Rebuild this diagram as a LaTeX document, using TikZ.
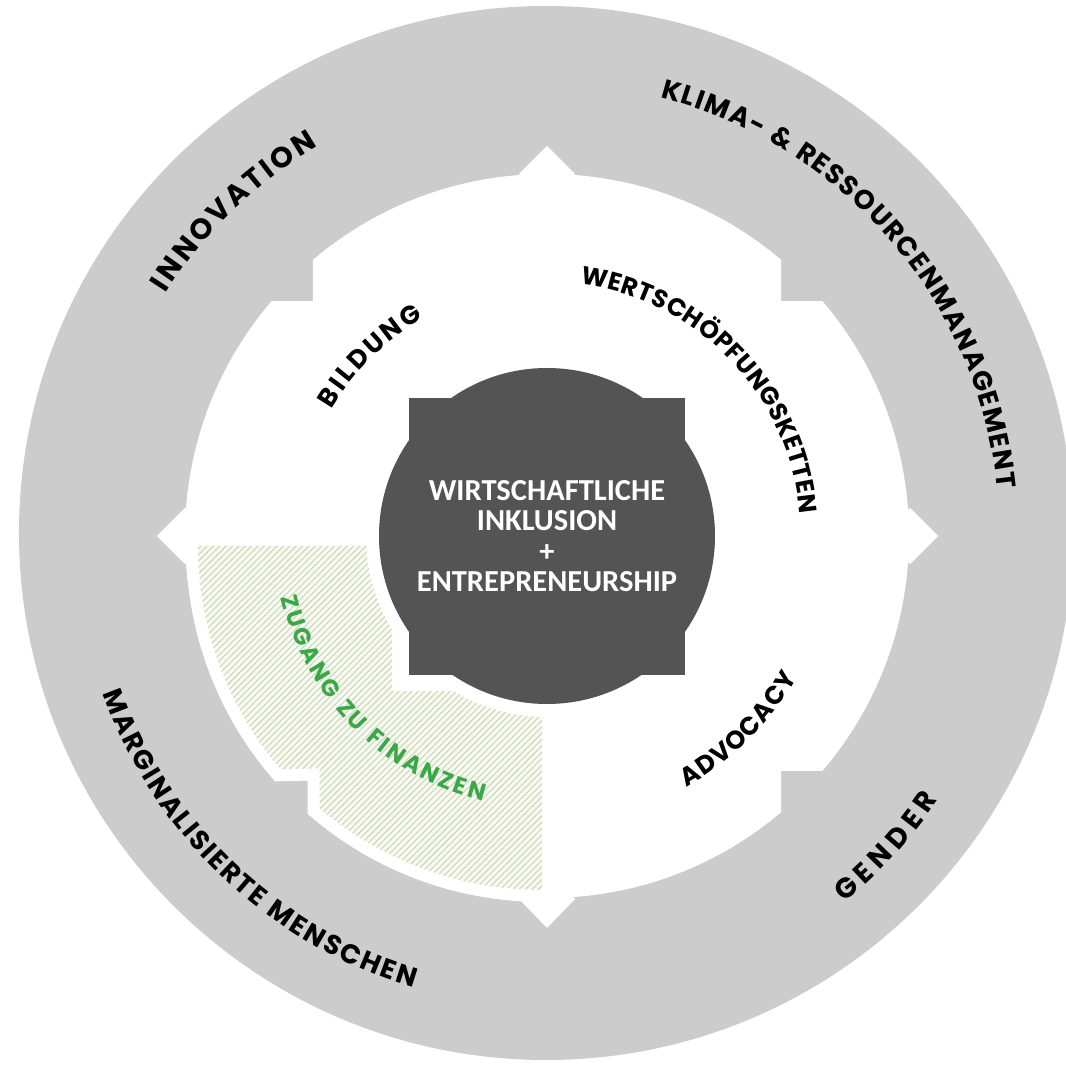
\documentclass[tikz,border=0pt]{standalone}
\usepackage{fontspec}
\newfontfamily\ringfont{Poppins}
\newfontfamily\corefont{Carlito}
\usetikzlibrary{decorations.text,patterns.meta}
\definecolor{ringgray}{RGB}{204,204,204}
\definecolor{darkcore}{RGB}{84,84,84}
\definecolor{hatchbg}{RGB}{247,249,242}
\definecolor{hatchline}{RGB}{203,217,182}
\definecolor{zgreen}{RGB}{58,168,72}
\newcommand\labfmt[1]{\ringfont\bfseries\fontsize{#1}{#1}\selectfont}
\tikzset{
  ringlabel/.style={decorate, decoration={text along path, text align={fit to path}, text color=black, text={#1}}},
  greenlabel/.style={decorate, decoration={text along path, text align={fit to path}, text color=zgreen, text={#1}}},
  hatched/.style={preaction={draw=white, line width=24pt, line join=miter},
    fill=hatchbg,
    postaction={pattern={Lines[angle=45,distance=4.5pt,line width=1.1pt]}, pattern color=hatchline}},
  corelabel/.style={align=center, text=white, inner sep=0pt,
    font=\corefont\bfseries\fontsize{30.5}{30.5}\selectfont}
}
\begin{document}
\begin{tikzpicture}[x=1pt,y=1pt]
\useasboundingbox (-547,-529) rectangle (519,536);
\fill[white] (-547,-529) rectangle (519,536);
% outer ring
\fill[ringgray] (-1,3) circle (527);
% white gear shape
\begin{scope}
  \clip (-234,-400) rectangle (234,400);
  \fill[white] (0,0) circle (362);
\end{scope}
\begin{scope}
  \clip (-400,-234) rectangle (400,234);
  \fill[white] (0,0) circle (362);
\end{scope}
\fill[white] (0,390) -- (28,362) -- (0,334) -- (-28,362) -- cycle;
\fill[white] (0,-392) -- (28,-363) -- (0,-334) -- (-28,-363) -- cycle;
\fill[white] (-390,0) -- (-362,28) -- (-334,0) -- (-362,-28) -- cycle;
\fill[white] (391,0) -- (363,28) -- (335,0) -- (363,-28) -- cycle;
% hatched quadrant
\begin{scope}[shift={(-5,-10)}, scale=0.95]
  \path[hatched] (0,0) -- (-362,0) arc[start angle=180, end angle=220.48, radius=362]
    -- (-234,-234) -- (229.73:362) arc[start angle=229.73, end angle=270, radius=362] -- cycle;
\end{scope}
% white halo round the core
\fill[white] (0,0) circle (181);
\fill[white] (-155,-155) rectangle (155,155);
% dark core
\fill[darkcore] (0,0) circle (168);
\fill[darkcore] (-138,-139) rectangle (138,138);
\node[corelabel] (core) at (0,0) {WIRTSCHAFTLICHE\\INKLUSION\\+\\ENTREPRENEURSHIP};
% outer ring labels
\path[ringlabel={|\labfmt{29}|INNOVATION}] (147.5:452) arc[start angle=147.5, end angle=120.5, radius=452];
\path[ringlabel={|\labfmt{27}|KLIMA- {\&} RESSOURCENMANAGEMENT}] (75.5:453) arc[start angle=75.5, end angle=6, radius=453];
\path[ringlabel={|\labfmt{28}|GENDER}] (-51:472) arc[start angle=-51, end angle=-34, radius=472];
\path[ringlabel={|\labfmt{27}|MARGINALISIERTE MENSCHEN}] (199.5:471) arc[start angle=199.5, end angle=253.5, radius=471];
% inner labels
\path[ringlabel={|\labfmt{26}|BILDUNG}] (149.5:250) arc[start angle=149.5, end angle=119.5, radius=250];
\path[ringlabel={|\labfmt{25}|WERTSCHÖPFUNGSKETTEN}] (82.5:254) arc[start angle=82.5, end angle=5, radius=254];
\path[ringlabel={|\labfmt{25.5}|ADVOCACY}] (-61:287) arc[start angle=-61, end angle=-29.5, radius=287];
\path[greenlabel={|\labfmt{23.5}|ZUGANG ZU FINANZEN}] (193:273) arc[start angle=193, end angle=256.5, radius=273];
\end{tikzpicture}
\end{document}
